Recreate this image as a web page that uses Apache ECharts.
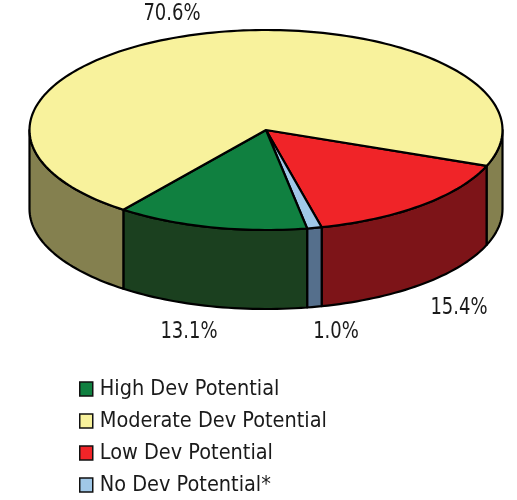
<!DOCTYPE html>
<html>
<head>
<meta charset="utf-8">
<style>html,body{margin:0;padding:0;background:#fff}#c{width:517px;height:500px}</style>
<script src="https://cdn.jsdelivr.net/npm/echarts@6/dist/echarts.min.js"></script>
</head>
<body>
<div id="c"></div>
<script>
// Data, in the clockwise drawing order of the slices
var categories = ['Low Dev Potential', 'No Dev Potential*', 'High Dev Potential', 'Moderate Dev Potential'];
var values = [15.4, 1.0, 13.1, 70.6];
var legendOrder = ['High Dev Potential', 'Moderate Dev Potential', 'Low Dev Potential', 'No Dev Potential*'];
var topColors = ['#f02428', '#a0c8e8', '#108040', '#f8f29c'];
var wallColors = ['#7d1418', '#556f8c', '#1b401f', '#84804f'];

// Layout of the tilted pie
var CX = 266, CY = 130, RX = 236.5, RY = 100, DEPTH = 79, START_DEG = 21;
var labelAnchors = [[459, 308], [336, 332], [189, 332], [172, 14]];
var FONT = '"DejaVu Sans Condensed", "DejaVu Sans", sans-serif';

var total = values.reduce(function (a, b) { return a + b; }, 0);
function ept(deg, dy) {
  var t = deg * Math.PI / 180;
  return [CX + RX * Math.cos(t), CY + RY * Math.sin(t) + (dy || 0)];
}
function arc(a, b, dy) {
  var pts = [], n = Math.max(2, Math.ceil(Math.abs(b - a) / 1.5));
  for (var i = 0; i <= n; i++) pts.push(ept(a + (b - a) * i / n, dy));
  return pts;
}
function wall(a, b, color) {
  return {
    type: 'polygon',
    shape: { points: arc(a, b, 0).concat(arc(b, a, DEPTH)) },
    style: { fill: color, stroke: '#000', lineWidth: 2.2, lineJoin: 'round' },
    z2: 1
  };
}
function sliceRender(index) {
  return function () {
    var before = 0;
    for (var i = 0; i < index; i++) before += values[i];
    var a = START_DEG + before / total * 360;
    var b = a + values[index] / total * 360;
    var kids = [];
    // visible front walls are where the angle lies in 0..180 (mod 360)
    [[0, 180], [360, 540]].forEach(function (r) {
      var lo = Math.max(a, r[0]), hi = Math.min(b, r[1]);
      if (hi > lo) kids.push(wall(lo, hi, wallColors[index]));
    });
    kids.push({
      type: 'polygon',
      shape: { points: [[CX, CY]].concat(arc(a, b, 0)) },
      style: { fill: topColors[index], stroke: '#000', lineWidth: 2.2, lineJoin: 'round' },
      z2: 2
    });
    kids.push({
      type: 'text',
      x: labelAnchors[index][0],
      y: labelAnchors[index][1],
      scaleY: 1.12,
      style: {
        text: values[index].toFixed(1) + '%',
        fill: '#1a1a1a',
        font: '20px ' + FONT,
        align: 'center',
        verticalAlign: 'middle'
      },
      z2: 3
    });
    return { type: 'group', children: kids };
  };
}

var chart = echarts.init(document.getElementById('c'), null, { renderer: 'canvas' });
chart.setOption({
  animation: false,
  backgroundColor: '#fff',
  legend: {
    data: legendOrder,
    orient: 'vertical',
    left: 79,
    top: 378,
    padding: 0,
    itemWidth: 13,
    itemHeight: 14,
    itemGap: 10,
    selectedMode: false,
    icon: 'rect',
    itemStyle: { borderColor: '#111', borderWidth: 1.5 },
    textStyle: { fontFamily: FONT, fontSize: 21.5, color: '#1a1a1a', lineHeight: 22, padding: [0, 0, 0, 2] }
  },
  series: categories.map(function (name, i) {
    return {
      type: 'custom',
      name: name,
      coordinateSystem: 'none',
      silent: true,
      itemStyle: { color: topColors[i] },
      data: [[values[i]]],
      renderItem: sliceRender(i)
    };
  })
});
</script>
</body>
</html>
